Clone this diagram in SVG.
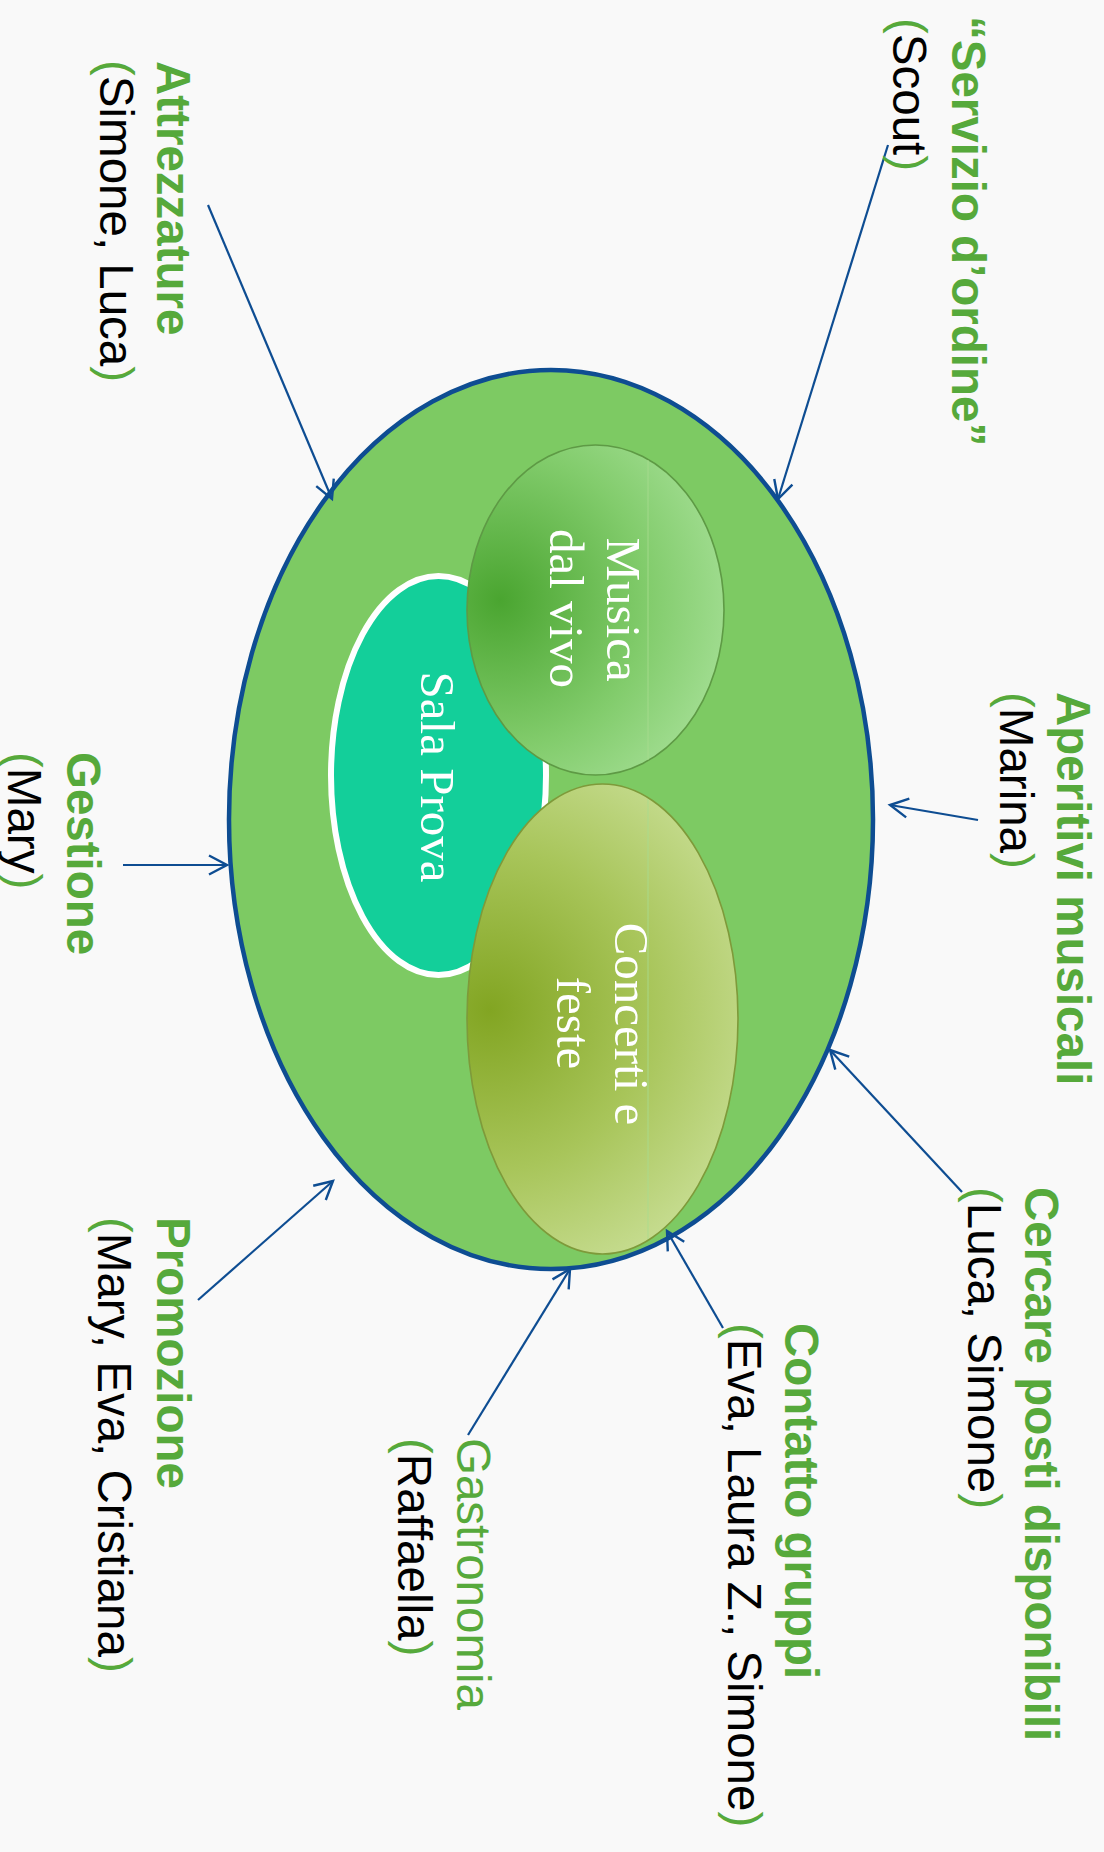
<svg xmlns="http://www.w3.org/2000/svg" width="1104" height="1852" viewBox="0 0 1104 1852">
<style>
.lbl{font-family:"Liberation Sans",Arial,sans-serif;font-size:47.5px}
.tt{fill:#56A93B;font-weight:bold}
.tr{fill:#56A93B}
.nm{fill:#000}
.p{fill:#56A93B}
.inn{font-family:"Liberation Serif","Times New Roman",serif;font-size:49px;fill:#fff;text-anchor:middle}
.con{stroke:#0E4D92;stroke-width:2.2;fill:none;marker-end:url(#arr)}
.seam{stroke:#A9DD90;stroke-width:1.2;opacity:0.7}
</style>
<defs>
<marker id="arr" markerUnits="userSpaceOnUse" viewBox="-22 -12 24 24" markerWidth="24" markerHeight="24" refX="0" refY="0" orient="auto" overflow="visible">
<path d="M-18,-9.5 L0,0 L-18,9.5" fill="none" stroke="#0E4D92" stroke-width="2.4" stroke-linejoin="miter"/>
</marker>
<radialGradient id="gMus" gradientUnits="userSpaceOnUse" cx="500" cy="600" r="270">
<stop offset="0" stop-color="#4AA530"/>
<stop offset="0.55" stop-color="#82CC6C"/>
<stop offset="1" stop-color="#AEE4A0"/>
</radialGradient>
<radialGradient id="gCon" gradientUnits="userSpaceOnUse" cx="490" cy="1010" r="320">
<stop offset="0" stop-color="#82A522"/>
<stop offset="0.5" stop-color="#A8C55A"/>
<stop offset="1" stop-color="#CFE3A0"/>
</radialGradient>
</defs>
<rect x="0" y="0" width="1104" height="1852" fill="#F9F9F9"/>

<g id="outer">
<ellipse cx="551" cy="819.5" rx="322" ry="449.5" fill="#7DCA63" stroke="#0E4D92" stroke-width="4.5"/>
</g>

<g id="sala-prova">
<ellipse cx="438.5" cy="775.5" rx="107.5" ry="199.5" fill="#13CF9A" stroke="#FFFFFF" stroke-width="6"/>
<text class="inn" transform="translate(421,777) rotate(90)">Sala Prova</text>
</g>

<g id="musica">
<ellipse cx="595.5" cy="610" rx="128.5" ry="165" fill="url(#gMus)" stroke="#5E9A45" stroke-width="1.6"/>
<line class="seam" x1="648" y1="460" x2="648" y2="760"/>
<text class="inn" transform="translate(607,609.5) rotate(90)">Musica</text>
<text class="inn" transform="translate(550,608.5) rotate(90)">dal vivo</text>
</g>

<g id="concerti">
<ellipse cx="602.5" cy="1019" rx="135.5" ry="235" fill="url(#gCon)" stroke="#7E9A3A" stroke-width="1.6"/>
<line class="seam" x1="648" y1="799" x2="648" y2="1239"/>
<text class="inn" transform="translate(615,1024) rotate(90)">Concerti e</text>
<text class="inn" transform="translate(557,1023) rotate(90)">feste</text>
</g>

<g id="connectors">
<line class="con" x1="208" y1="205" x2="332" y2="499"/>
<line class="con" x1="888" y1="145" x2="778" y2="499"/>
<line class="con" x1="978" y1="820" x2="890" y2="805"/>
<line class="con" x1="123" y1="865" x2="227" y2="865"/>
<line class="con" x1="962" y1="1192" x2="830" y2="1050"/>
<line class="con" x1="723" y1="1328" x2="667" y2="1231"/>
<line class="con" x1="468" y1="1435" x2="570" y2="1269"/>
<line class="con" x1="198" y1="1300" x2="333" y2="1181"/>
</g>

<g id="servizio">
<text class="lbl tt" transform="translate(952,16) rotate(90)">“Servizio d’ordine”</text>
<text class="lbl nm" transform="translate(893,18) rotate(90)"><tspan class="p">(</tspan>Scout<tspan class="p">)</tspan></text>
</g>

<g id="attrezzature">
<text class="lbl tt" transform="translate(157,61) rotate(90)">Attrezzature</text>
<text class="lbl nm" transform="translate(100,60) rotate(90)"><tspan class="p">(</tspan>Simone, Luca<tspan class="p">)</tspan></text>
</g>

<g id="aperitivi">
<text class="lbl tt" transform="translate(1057,692) rotate(90)">Aperitivi musicali</text>
<text class="lbl nm" transform="translate(1000,692) rotate(90)"><tspan class="p">(</tspan>Marina<tspan class="p">)</tspan></text>
</g>

<g id="gestione">
<text class="lbl tt" transform="translate(67,752) rotate(90)">Gestione</text>
<text class="lbl nm" transform="translate(8,752) rotate(90)"><tspan class="p">(</tspan>Mary<tspan class="p">)</tspan></text>
</g>

<g id="cercare">
<text class="lbl tt" transform="translate(1025,1187) rotate(90)">Cercare posti disponibili</text>
<text class="lbl nm" transform="translate(968,1187) rotate(90)"><tspan class="p">(</tspan>Luca, Simone<tspan class="p">)</tspan></text>
</g>

<g id="contatto">
<text class="lbl tt" transform="translate(785,1323) rotate(90)">Contatto gruppi</text>
<text class="lbl nm" transform="translate(728,1323) rotate(90)"><tspan class="p">(</tspan>Eva, Laura Z., Simone<tspan class="p">)</tspan></text>
</g>

<g id="gastronomia">
<text class="lbl tr" transform="translate(457,1438) rotate(90)">Gastronomia</text>
<text class="lbl nm" transform="translate(398,1438) rotate(90)"><tspan class="p">(</tspan>Raffaella<tspan class="p">)</tspan></text>
</g>

<g id="promozione">
<text class="lbl tt" transform="translate(157,1217) rotate(90)">Promozione</text>
<text class="lbl nm" transform="translate(98,1217) rotate(90)"><tspan class="p">(</tspan>Mary, Eva, Cristiana<tspan class="p">)</tspan></text>
</g>
</svg>
